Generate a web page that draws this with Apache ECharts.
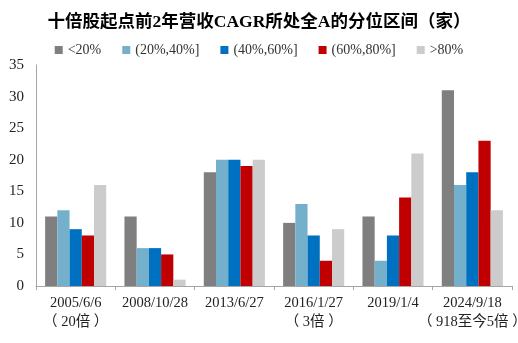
<!DOCTYPE html>
<html>
<head>
<meta charset="utf-8">
<script src="https://cdn.jsdelivr.net/npm/echarts@6/dist/echarts.min.js"></script>
<style>
  html, body { margin: 0; padding: 0; background: #fff; }
  #chart { width: 518px; height: 343px; }
</style>
</head>
<body>
<div id="chart"></div>
<script>
// Start dates of each ten-bagger wave, with the wave's multiple underneath
const categories = ['2005/6/6\n（ 20倍 ）', '2008/10/28', '2013/6/27', '2016/1/27\n（ 3倍 ）', '2019/1/4', '2024/9/18\n（ 918至今5倍 ）'];

// Number of companies per percentile band of 2-year revenue CAGR
const seriesNames = ['<20%', '(20%,40%]', '(40%,60%]', '(60%,80%]', '>80%'];
const below20 = [11, 11, 18, 10, 11, 31];
const p20to40 = [12, 6, 20, 13, 4, 16];
const p40to60 = [9, 6, 20, 8, 8, 18];
const p60to80 = [8, 5, 19, 4, 14, 23];
const above80 = [16, 1, 20, 9, 21, 12];

const colors = ['#7f7f7f', '#74b0cc', '#0070c0', '#c00000', '#cccccc'];
const serif = '"Liberation Serif", "Noto Sans CJK SC", serif';

const chart = echarts.init(document.getElementById('chart'));
const values = [below20, p20to40, p40to60, p60to80, above80];

chart.setOption({
  animation: false,
  title: {
    text: '十倍股起点前2年营收CAGR所处全A的分位区间（家）',
    left: 'center',
    top: 9,
    textStyle: { fontFamily: serif, fontSize: 17.5, fontWeight: 'bold', color: '#000' }
  },
  legend: {
    data: seriesNames,
    top: 38,
    left: 'center',
    itemWidth: 8,
    itemHeight: 8,
    itemGap: 21,
    icon: 'rect',
    textStyle: { fontFamily: serif, fontSize: 14, color: '#333' }
  },
  grid: { left: 36, right: 6, top: 65, bottom: 57, outerBoundsMode: 'none', containLabel: false },
  xAxis: {
    type: 'category',
    data: categories,
    axisLine: { lineStyle: { color: '#a6a6a6' } },
    axisTick: { show: true, length: 4, lineStyle: { color: '#a6a6a6' } },
    axisLabel: { fontFamily: serif, fontSize: 14.5, color: '#222', lineHeight: 19, margin: 8, interval: 0 }
  },
  yAxis: {
    type: 'value',
    min: 0,
    max: 35,
    interval: 5,
    splitLine: { show: false },
    axisLine: { show: true, lineStyle: { color: '#a6a6a6' } },
    axisTick: { show: false },
    axisLabel: { fontFamily: serif, fontSize: 15, color: '#222', margin: 12 }
  },
  series: seriesNames.map((name, i) => ({
    name,
    type: 'bar',
    data: values[i],
    barGap: '0%',
    barCategoryGap: '23%',
    itemStyle: { color: colors[i] }
  }))
});
</script>
</body>
</html>
